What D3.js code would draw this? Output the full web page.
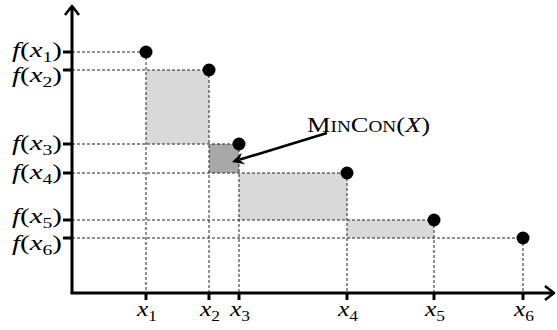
<!DOCTYPE html>
<html><head><meta charset="utf-8">
<script src="https://cdn.jsdelivr.net/npm/d3@7"></script>
<style>body{margin:0;background:#fff}svg{display:block}</style>
</head><body>
<svg id="c" width="557" height="330"></svg>
<script>
// data (arbitrary units)
const xLabels = ["1","2","3","4","5","6"];           // subscripts of x_i
const xValues = [74, 137, 167, 275, 362, 451];       // positions of x_i
const fValues = [241, 223, 149, 120, 73, 55];        // f(x_i)

const svg = d3.select("#c");
const x = d3.scaleLinear().domain([0, 483]).range([72, 555]);
const y = d3.scaleLinear().domain([0, 288]).range([293, 5]);
const serif = "Liberation Serif, DejaVu Serif, serif";
// layout: vertical nudges of the f(x_i) labels relative to their ticks
const labelNudge = [5, 12, 6, 6, 3, 12];

const pts = xValues.map((v,i)=>({x:v, f:fValues[i], lab:xLabels[i], i}));

// shaded rectangles: from x_i to x_{i+1}, between f(x_{i+1}) and f(x_{i+2})
const rects = [];
for (let i=0;i<pts.length-2;i++){
  rects.push({x0:pts[i].x, x1:pts[i+1].x, fTop:pts[i+1].f, fBot:pts[i+2].f, dark: i===1});
}
svg.selectAll("rect.s").data(rects).join("rect")
  .attr("x", d=>x(d.x0)).attr("width", d=>x(d.x1)-x(d.x0))
  .attr("y", d=>y(d.fTop)).attr("height", d=>y(d.fBot)-y(d.fTop))
  .attr("fill", d=>d.dark ? "#a8a8a8" : "#d9d9d9");

// dashed guide lines
svg.selectAll("line.h").data(pts).join("line")
  .attr("x1", x(0)).attr("x2", d=>x(d.x)).attr("y1", d=>y(d.f)).attr("y2", d=>y(d.f))
  .attr("stroke","#222").attr("stroke-width",1).attr("stroke-dasharray","3,2");
svg.selectAll("line.v").data(pts).join("line")
  .attr("x1", d=>x(d.x)).attr("x2", d=>x(d.x)).attr("y1", d=>y(d.f)).attr("y2", y(0))
  .attr("stroke","#222").attr("stroke-width",1).attr("stroke-dasharray","3,2");

// axes
const ax = svg.append("g").attr("stroke","#000").attr("fill","none").attr("stroke-linecap","butt");
ax.append("line").attr("x1", x(0)).attr("y1", y(0)).attr("x2", x(0)).attr("y2", y(288)+1).attr("stroke-width",3);
ax.append("line").attr("x1", x(0)-1.5).attr("y1", y(0)).attr("x2", x(483)-1).attr("y2", y(0)).attr("stroke-width",3);
ax.append("path").attr("d", `M${x(0)-7},${y(288)+10} L${x(0)},${y(288)+1} L${x(0)+7},${y(288)+10}`).attr("stroke-width",2.6).attr("stroke-linejoin","round");
ax.append("path").attr("d", `M${x(483)-10},${y(0)-7} L${x(483)-1},${y(0)} L${x(483)-10},${y(0)+7}`).attr("stroke-width",2.6).attr("stroke-linejoin","round");

// ticks
svg.selectAll("line.yt").data(pts).join("line")
  .attr("x1", x(0)-9).attr("x2", x(0)).attr("y1", d=>y(d.f)).attr("y2", d=>y(d.f))
  .attr("stroke","#000").attr("stroke-width",3);
svg.selectAll("line.xt").data(pts).join("line")
  .attr("x1", d=>x(d.x)).attr("x2", d=>x(d.x)).attr("y1", y(0)).attr("y2", y(0)+7)
  .attr("stroke","#000").attr("stroke-width",3);

// dots
svg.selectAll("circle").data(pts).join("circle")
  .attr("cx", d=>x(d.x)).attr("cy", d=>y(d.f)).attr("r",6.5).attr("fill","#000");

// y labels f(x_i)
const yl = svg.selectAll("text.yl").data(pts).join("text")
  .attr("x", 12).attr("y", d=>y(d.f)+labelNudge[d.i])
  .attr("textLength", 50).attr("lengthAdjust","spacingAndGlyphs")
  .attr("font-family",serif).attr("font-size",22).attr("fill","#000");
yl.append("tspan").attr("font-style","italic").text("f");
yl.append("tspan").text("(");
yl.append("tspan").attr("font-style","italic").text("x");
yl.append("tspan").attr("dy",5).attr("font-size",15).text(d=>d.lab);
yl.append("tspan").attr("dy",-5).text(")");

// x labels x_i
const xl = svg.selectAll("text.xl").data(pts).join("text")
  .attr("x", d=>x(d.x)-9).attr("y", 316)
  .attr("textLength", 20).attr("lengthAdjust","spacingAndGlyphs")
  .attr("font-family",serif).attr("font-size",22).attr("fill","#000");
xl.append("tspan").attr("font-style","italic").text("x");
xl.append("tspan").attr("dy",5).attr("font-size",15).text(d=>d.lab);

// annotation arrow
const a0 = [x(255), y(160)], a1 = [x(160), y(131)];
const ang = Math.atan2(a1[1]-a0[1], a1[0]-a0[0]);
const tipBack = 12;
svg.append("line").attr("x1",a0[0]).attr("y1",a0[1])
  .attr("x2",a1[0]-Math.cos(ang)*tipBack*0.7).attr("y2",a1[1]-Math.sin(ang)*tipBack*0.7)
  .attr("stroke","#000").attr("stroke-width",2.6);
const hp = (dist, off) => [a1[0]-Math.cos(ang)*dist - Math.sin(ang)*off, a1[1]-Math.sin(ang)*dist + Math.cos(ang)*off];
const p1 = hp(tipBack, 6), p2 = hp(tipBack*0.65, 0), p3 = hp(tipBack, -6);
svg.append("path").attr("d", `M${a1[0]},${a1[1]} L${p1} L${p2} L${p3} Z`).attr("fill","#000");

// annotation text in small caps
const t = svg.append("text").attr("x", 307).attr("y", 132)
  .attr("textLength", 123).attr("lengthAdjust","spacingAndGlyphs")
  .attr("font-family",serif).attr("font-size",22).attr("fill","#000");
t.append("tspan").text("M");
t.append("tspan").attr("font-size",16).text("IN");
t.append("tspan").text("C");
t.append("tspan").attr("font-size",16).text("ON");
t.append("tspan").text("(");
t.append("tspan").attr("font-style","italic").text("X");
t.append("tspan").text(")");
</script>
</body></html>
